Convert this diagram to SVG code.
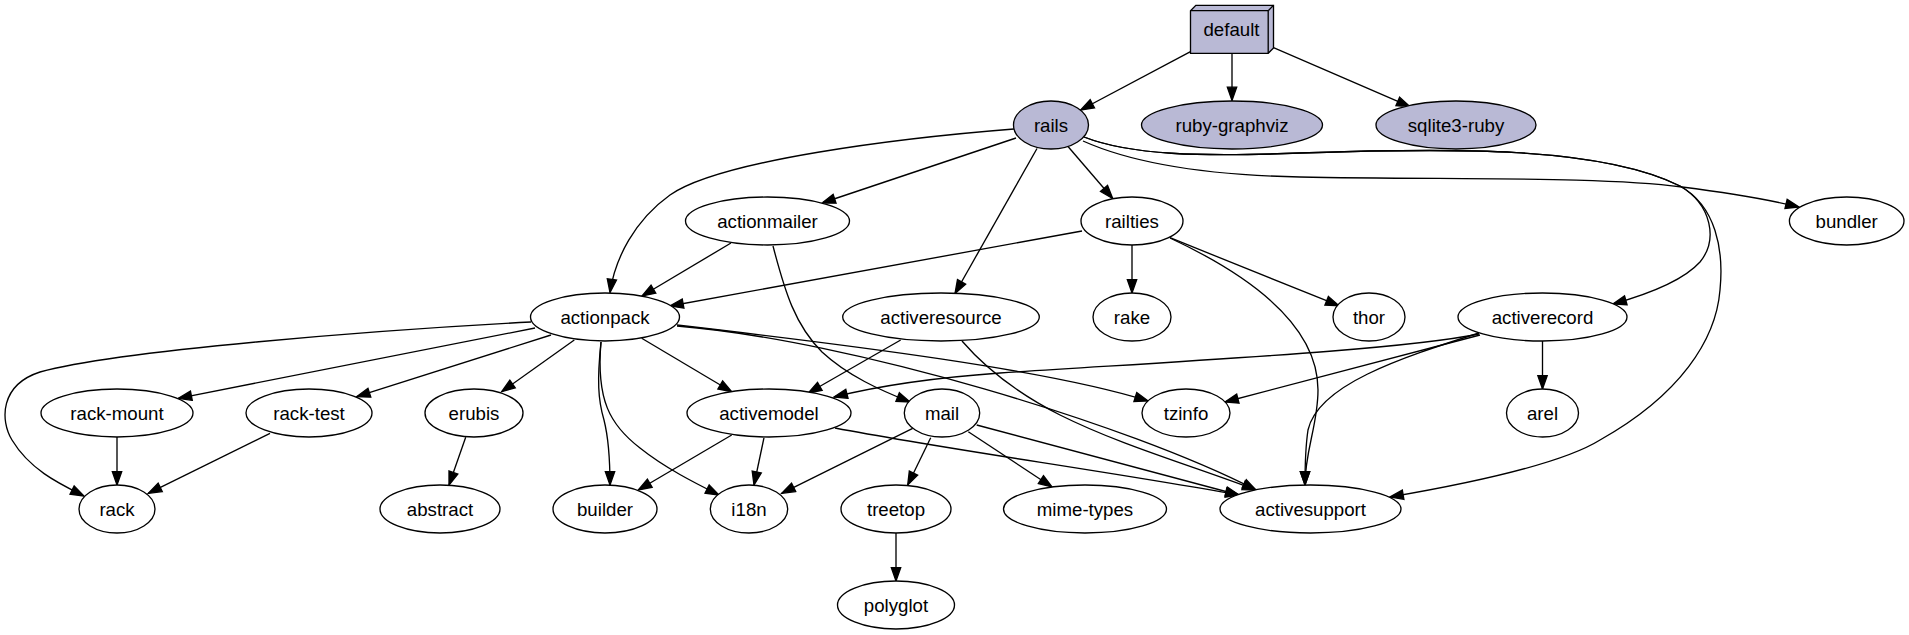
<svg xmlns="http://www.w3.org/2000/svg" width="1909" height="635" viewBox="0 0 1909 635">
<style>
.n ellipse{fill:#ffffff;stroke:#000;stroke-width:1.33}
.n.g ellipse,.n.g polygon{fill:#B9B9D5;stroke:#000;stroke-width:1.33}
.n polyline{fill:none;stroke:#000;stroke-width:1.33}
.n text{font-family:"Liberation Sans",Arial,sans-serif;font-size:18.67px;text-anchor:middle;fill:#000}
#edges path{fill:none;stroke:#000;stroke-width:1.33;marker-end:url(#arr)}
</style>
<defs>
<marker id="arr" markerUnits="userSpaceOnUse" viewBox="-2 -2 17.4 13.4" markerWidth="17.4" markerHeight="13.4" refX="13.3" refY="4.67" orient="auto" overflow="visible">
<path d="M0,0 L13.3,4.67 L0,9.33 Z" fill="#000" stroke="#000" stroke-width="1.33"/>
</marker>
</defs>
<rect width="1909" height="635" fill="#ffffff"/>
<g id="edges">
<path d="M1190.5,51.7 L1080.6,110"/>
<path d="M1232,53.3 L1232,100.5"/>
<path d="M1273.5,47.7 L1410,106.7"/>
<path d="M1014,129 C900,138 720,160 670,195 C635,220 615,258 610,292.5"/>
<path d="M1016,138 L822,203"/>
<path d="M1037,148.5 L955,293.5"/>
<path d="M1068,146.5 L1112.7,198.5"/>
<path d="M1083,141 C1130,162 1200,175 1300,177 C1450,180 1600,176 1682,187 C1730,193 1770,200 1799,207"/>
<path d="M1084,137 C1130,155 1200,157 1300,153 C1450,148 1600,146 1680,186 C1712,205 1718,240 1700,262 C1682,282 1645,295 1613,304"/>
<path d="M1084,137 C1130,155 1200,157 1300,153 C1450,148 1600,146 1680,186 C1716,206 1724,250 1720,290 C1716,340 1680,395 1600,440 C1560,465 1460,485 1390,497"/>
<path d="M731,243 L642,296"/>
<path d="M773,246 C785,292 795,325 822,352 C848,376 880,390 910,402"/>
<path d="M1082,231 L670,306"/>
<path d="M1132,245 L1132,293"/>
<path d="M1170,237.7 L1339,305.7"/>
<path d="M1170,238 C1260,280 1318,330 1318,390 C1318,425 1305,450 1305,485"/>
<path d="M1479,333 C1400,358 1318,385 1308,430 C1305,450 1305,470 1305,485"/>
<path d="M1479,334 C1400,350 1200,360 1000,373 C930,378 870,388 834,397"/>
<path d="M1480,335 L1225,402"/>
<path d="M1542.5,341 L1542.5,389"/>
<path d="M900.7,340 L808.3,393"/>
<path d="M962,341 C987,370 1017,393 1060,415 C1120,445 1190,465 1256,490"/>
<path d="M531,322 C380,330 120,350 40,372 C0,385 0,420 12,440 C30,470 60,484 84,496"/>
<path d="M535,328 L178.3,398.3"/>
<path d="M551,335 L356.7,396.7"/>
<path d="M574.3,340 L501.7,391.7"/>
<path d="M601,342 C597,380 598,400 604,420 C609,440 610,465 610,485"/>
<path d="M601,342 C596,400 610,425 640,448 C665,468 695,483 719,495"/>
<path d="M641.7,338.3 L731.7,391.7"/>
<path d="M677,325 C850,345 1050,370 1148,401"/>
<path d="M677,326 C850,340 1130,425 1256,490"/>
<path d="M731.7,435 L638.3,490"/>
<path d="M764,437.7 L754,485"/>
<path d="M835,428 C950,450 1100,470 1239,495"/>
<path d="M912.7,428.3 L781.7,493.3"/>
<path d="M930.7,437.7 L907.7,485"/>
<path d="M968.3,431.7 L1052,487"/>
<path d="M976.7,425 L1239,495"/>
<path d="M896,533 L896,581"/>
<path d="M117,437 L117,485"/>
<path d="M270,433.3 L148.3,493.3"/>
<path d="M465.7,437.3 L449,485"/>
</g>
<g id="default" class="n g">
<polygon points="1273.5,5.3 1195.8,5.3 1190.5,10.7 1190.5,53.3 1268.2,53.3 1273.5,48 1273.5,5.3"/>
<polyline points="1268.2,10.7 1190.5,10.7"/>
<polyline points="1268.2,10.7 1268.2,53.3"/>
<polyline points="1268.2,10.7 1273.5,5.3"/>
<text x="1231.5" y="35.5">default</text>
</g>
<g id="rails" class="n g"><ellipse cx="1051" cy="125" rx="37.5" ry="24"/><text x="1051" y="131.5">rails</text></g>
<g id="ruby-graphviz" class="n g"><ellipse cx="1232" cy="125" rx="90.5" ry="24"/><text x="1232" y="131.5">ruby-graphviz</text></g>
<g id="sqlite3-ruby" class="n g"><ellipse cx="1456" cy="125" rx="80" ry="24"/><text x="1456" y="131.5">sqlite3-ruby</text></g>
<g id="actionmailer" class="n"><ellipse cx="767.5" cy="221" rx="82" ry="24"/><text x="767.5" y="227.5">actionmailer</text></g>
<g id="railties" class="n"><ellipse cx="1132" cy="221" rx="51" ry="24"/><text x="1132" y="227.5">railties</text></g>
<g id="bundler" class="n"><ellipse cx="1846.7" cy="221" rx="57.3" ry="24"/><text x="1846.7" y="227.5">bundler</text></g>
<g id="actionpack" class="n"><ellipse cx="605" cy="317" rx="74.5" ry="24"/><text x="605" y="323.5">actionpack</text></g>
<g id="activeresource" class="n"><ellipse cx="941" cy="317" rx="98.3" ry="24"/><text x="941" y="323.5">activeresource</text></g>
<g id="rake" class="n"><ellipse cx="1132" cy="317" rx="39" ry="24"/><text x="1132" y="323.5">rake</text></g>
<g id="thor" class="n"><ellipse cx="1369" cy="317" rx="36" ry="24"/><text x="1369" y="323.5">thor</text></g>
<g id="activerecord" class="n"><ellipse cx="1542.5" cy="317" rx="84.5" ry="24"/><text x="1542.5" y="323.5">activerecord</text></g>
<g id="rack-mount" class="n"><ellipse cx="117" cy="413" rx="76" ry="24"/><text x="117" y="419.5">rack-mount</text></g>
<g id="rack-test" class="n"><ellipse cx="309" cy="413" rx="63" ry="24"/><text x="309" y="419.5">rack-test</text></g>
<g id="erubis" class="n"><ellipse cx="474" cy="413" rx="49" ry="24"/><text x="474" y="419.5">erubis</text></g>
<g id="activemodel" class="n"><ellipse cx="769" cy="413" rx="82" ry="24"/><text x="769" y="419.5">activemodel</text></g>
<g id="mail" class="n"><ellipse cx="942" cy="413" rx="37.7" ry="24"/><text x="942" y="419.5">mail</text></g>
<g id="tzinfo" class="n"><ellipse cx="1186" cy="413" rx="44" ry="24"/><text x="1186" y="419.5">tzinfo</text></g>
<g id="arel" class="n"><ellipse cx="1542.5" cy="413" rx="36" ry="24"/><text x="1542.5" y="419.5">arel</text></g>
<g id="rack" class="n"><ellipse cx="117" cy="509" rx="38" ry="24"/><text x="117" y="515.5">rack</text></g>
<g id="abstract" class="n"><ellipse cx="440" cy="509" rx="60" ry="24"/><text x="440" y="515.5">abstract</text></g>
<g id="builder" class="n"><ellipse cx="605" cy="509" rx="52" ry="24"/><text x="605" y="515.5">builder</text></g>
<g id="i18n" class="n"><ellipse cx="749" cy="509" rx="38.7" ry="24"/><text x="749" y="515.5">i18n</text></g>
<g id="treetop" class="n"><ellipse cx="896" cy="509" rx="55" ry="24"/><text x="896" y="515.5">treetop</text></g>
<g id="mime-types" class="n"><ellipse cx="1085" cy="509" rx="81.5" ry="24"/><text x="1085" y="515.5">mime-types</text></g>
<g id="activesupport" class="n"><ellipse cx="1310.5" cy="509" rx="90.5" ry="24"/><text x="1310.5" y="515.5">activesupport</text></g>
<g id="polyglot" class="n"><ellipse cx="896" cy="605" rx="58.5" ry="24"/><text x="896" y="611.5">polyglot</text></g>
</svg>
